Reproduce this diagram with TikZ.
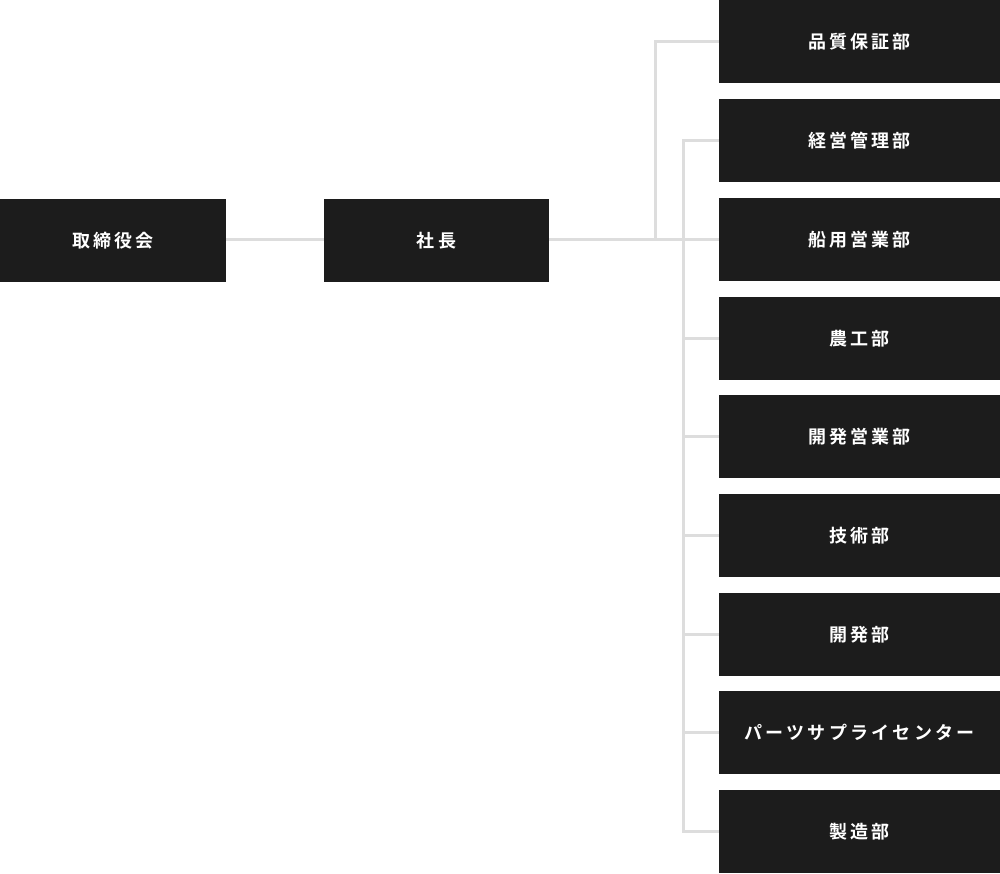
\documentclass[tikz,border=0pt]{standalone}
\usepackage{fontspec}
\newfontfamily\jpfont[LetterSpace=18]{Noto Sans CJK JP Bold}
\begin{document}
\begin{tikzpicture}[x=1pt,y=-1pt,
  box/.style={fill=boxgray,draw=none,minimum height=83pt,inner sep=0pt,text=white,font=\jpfont\fontsize{18}{21}\selectfont},
  conn/.style={draw=linegray,line width=3pt}]
\definecolor{boxgray}{HTML}{1C1C1C}
\definecolor{linegray}{HTML}{DDDDDD}
\useasboundingbox (0,0) rectangle (1000,874);
\node[box,minimum width=226pt] (board) at (113,240.5) {取締役会};
\node[box,minimum width=225pt] (pres) at (436.5,240.5) {社長};
\foreach \n/\y/\t in {d1/41.5/品質保証部, d2/140.5/経営管理部, d3/239.5/船用営業部, d4/338.5/農工部, d5/436.5/開発営業部, d6/535.5/技術部, d7/634.5/開発部, d8/732.5/パーツサプライセンター, d9/831.5/製造部}{
  \node[box,minimum width=281pt] (\n) at (859.5,\y) {\t};
}
\coordinate (ja) at (655,240);
\coordinate (jb) at (683.5,240);
\draw[conn] (board.east |- 0,240) -- (pres.west |- 0,240);
\draw[conn] (pres.east |- 0,240) -- (d3.west |- 0,240);
\draw[conn] (ja) |- (d1.west);
\draw[conn] (d2.west) -| (jb |- d9.west) -- (d9.west);
\foreach \n in {d4,d5,d6,d7,d8}{
  \draw[conn] (jb |- \n.west) -- (\n.west);
}
\end{tikzpicture}
\end{document}
